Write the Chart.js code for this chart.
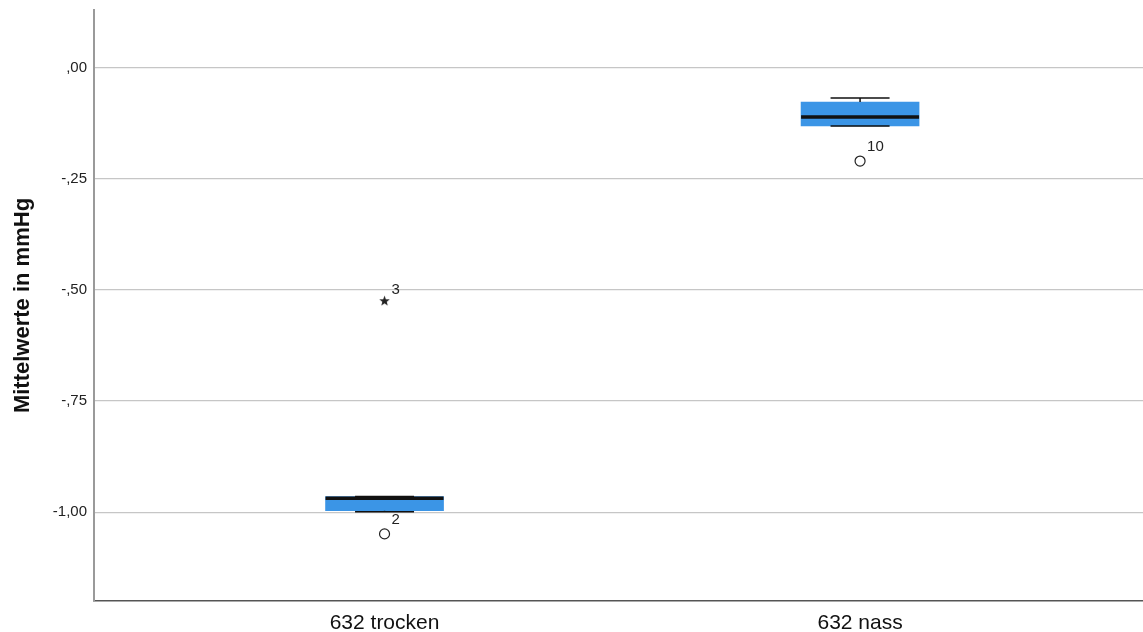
<!DOCTYPE html>
<html>
<head>
<meta charset="utf-8">
<script src="https://cdn.jsdelivr.net/npm/chart.js@4.4.1/dist/chart.umd.min.js"></script>
<style>
  html, body { margin: 0; padding: 0; background: #ffffff; }
  #wrap { width: 1143px; height: 632px; position: relative; }
</style>
</head>
<body>
<div id="wrap"><canvas id="c" width="1143" height="632"></canvas></div>
<script>
// ---- data ----
const categories = ['632 trocken', '632 nass'];
const q1Values = [-0.997, -0.131];
const q3Values = [-0.965, -0.077];
const medianValues = [-0.969, -0.111];
const whiskerLow = [-0.999, -0.131];
const whiskerHigh = [-0.965, -0.068];
const outlierCats = [0, 1];
const outlierValues = [-1.049, -0.210];
const outlierLabels = ['2', '10'];
const extremeCats = [0];
const extremeValues = [-0.524];
const extremeLabels = ['3'];
const yTickValues = [0, -0.25, -0.5, -0.75, -1];
const yTickLabels = [',00', '-,25', '-,50', '-,75', '-1,00'];

const FONT = '"Liberation Sans", Arial, Helvetica, sans-serif';

// filled star marker for extreme values
function makeStar(size, color) {
  const cv = document.createElement('canvas');
  cv.width = size; cv.height = size;
  const g = cv.getContext('2d');
  const cx = size / 2, cy = size / 2 + 0.5, ro = size / 2, ri = ro * 0.42;
  g.beginPath();
  for (let k = 0; k < 10; k++) {
    const r = k % 2 === 0 ? ro : ri;
    const a = -Math.PI / 2 + k * Math.PI / 5;
    const px = cx + r * Math.cos(a), py = cy + r * Math.sin(a);
    if (k === 0) g.moveTo(px, py); else g.lineTo(px, py);
  }
  g.closePath();
  g.fillStyle = color;
  g.fill();
  return cv;
}
const starImg = makeStar(11, '#222222');

const boxPlugin = {
  id: 'boxParts',
  afterDatasetDraw(chart, args) {
    if (args.index !== 0) return;
    const ctx = chart.ctx;
    const xs = chart.scales.x, ys = chart.scales.y;
    const meta = chart.getDatasetMeta(0);
    ctx.save();
    ctx.strokeStyle = '#111111';
    categories.forEach((c, i) => {
      const bar = meta.data[i];
      const cx = xs.getPixelForValue(i + 1);
      const half = bar.width / 2;
      const capHalf = half / 2;
      ctx.lineWidth = 1.5;
      ctx.beginPath();
      ctx.moveTo(cx, ys.getPixelForValue(q3Values[i]));
      ctx.lineTo(cx, ys.getPixelForValue(whiskerHigh[i]));
      ctx.moveTo(cx, ys.getPixelForValue(q1Values[i]));
      ctx.lineTo(cx, ys.getPixelForValue(whiskerLow[i]));
      ctx.stroke();
      ctx.beginPath();
      const yh = ys.getPixelForValue(whiskerHigh[i]);
      const yl = ys.getPixelForValue(whiskerLow[i]);
      ctx.moveTo(cx - capHalf, yh); ctx.lineTo(cx + capHalf, yh);
      ctx.moveTo(cx - capHalf, yl); ctx.lineTo(cx + capHalf, yl);
      ctx.stroke();
      ctx.lineWidth = 3.5;
      ctx.beginPath();
      const ym = ys.getPixelForValue(medianValues[i]);
      ctx.moveTo(cx - half, ym); ctx.lineTo(cx + half, ym);
      ctx.stroke();
    });
    ctx.restore();
  },
  afterDatasetsDraw(chart) {
    const ctx = chart.ctx;
    const xs = chart.scales.x, ys = chart.scales.y;
    ctx.save();
    ctx.fillStyle = '#222222';
    ctx.font = '15px ' + FONT;
    ctx.textAlign = 'left';
    ctx.textBaseline = 'middle';
    outlierLabels.forEach((lab, i) => {
      const px = xs.getPixelForValue(outlierCats[i] + 1);
      const py = ys.getPixelForValue(outlierValues[i]);
      ctx.fillText(lab, px + 7, py - 14);
    });
    extremeLabels.forEach((lab, i) => {
      const px = xs.getPixelForValue(extremeCats[i] + 1);
      const py = ys.getPixelForValue(extremeValues[i]);
      ctx.fillText(lab, px + 7, py - 11);
    });
    ctx.restore();
  }
};

function zeroPad(scale) {
  scale.paddingTop = 0; scale.paddingBottom = 0;
  scale.paddingLeft = 0; scale.paddingRight = 0;
}

const chart = new Chart(document.getElementById('c'), {
  type: 'bar',
  data: {
    datasets: [
      {
        type: 'bar',
        data: categories.map((c, i) => ({ x: i + 1, y: [q1Values[i], q3Values[i]] })),
        backgroundColor: '#3b95e6',
        borderWidth: 0,
        barThickness: 118
      },
      {
        type: 'scatter',
        data: outlierCats.map((c, i) => ({ x: c + 1, y: outlierValues[i] })),
        pointStyle: 'circle',
        pointRadius: 5,
        pointBorderWidth: 1.2,
        pointBorderColor: '#222222',
        pointBackgroundColor: '#ffffff'
      },
      {
        type: 'scatter',
        data: extremeCats.map((c, i) => ({ x: c + 1, y: extremeValues[i] })),
        pointStyle: starImg,
        pointRadius: 5
      }
    ]
  },
  options: {
    responsive: false,
    animation: false,
    maintainAspectRatio: false,
    layout: { autoPadding: false, padding: { top: 10, left: 0, right: 0, bottom: 0 } },
    plugins: { legend: { display: false }, tooltip: { enabled: false } },
    scales: {
      x: {
        type: 'linear',
        offset: false,
        min: 0.389,
        max: 2.595,
        grid: { display: false, drawTicks: false, offset: false },
        border: { display: true, color: '#555555', width: 1.5 },
        afterBuildTicks(scale) { scale.ticks = categories.map((c, i) => ({ value: i + 1 })); },
        afterFit(scale) { scale.height = 31; zeroPad(scale); },
        ticks: {
          padding: 10,
          color: '#111111',
          font: { family: FONT, size: 21 },
          callback: (v, idx) => categories[idx]
        }
      },
      y: {
        type: 'linear',
        min: -1.2,
        max: 0.13,
        afterBuildTicks(scale) { scale.ticks = yTickValues.map(v => ({ value: v })); },
        afterFit(scale) { scale.width = 94; zeroPad(scale); },
        grid: { color: '#c6c6c6', lineWidth: 1.2, drawTicks: false },
        border: { display: true, color: '#9a9a9a', width: 2 },
        ticks: {
          padding: 7,
          color: '#222222',
          font: { family: FONT, size: 15 },
          callback: (v, idx) => yTickLabels[idx]
        },
        title: {
          display: true,
          text: 'Mittelwerte in mmHg',
          color: '#111111',
          font: { family: FONT, size: 22, weight: 'bold' },
          padding: { top: 10, bottom: 0 }
        }
      }
    }
  },
  plugins: [boxPlugin]
});
</script>
</body>
</html>
